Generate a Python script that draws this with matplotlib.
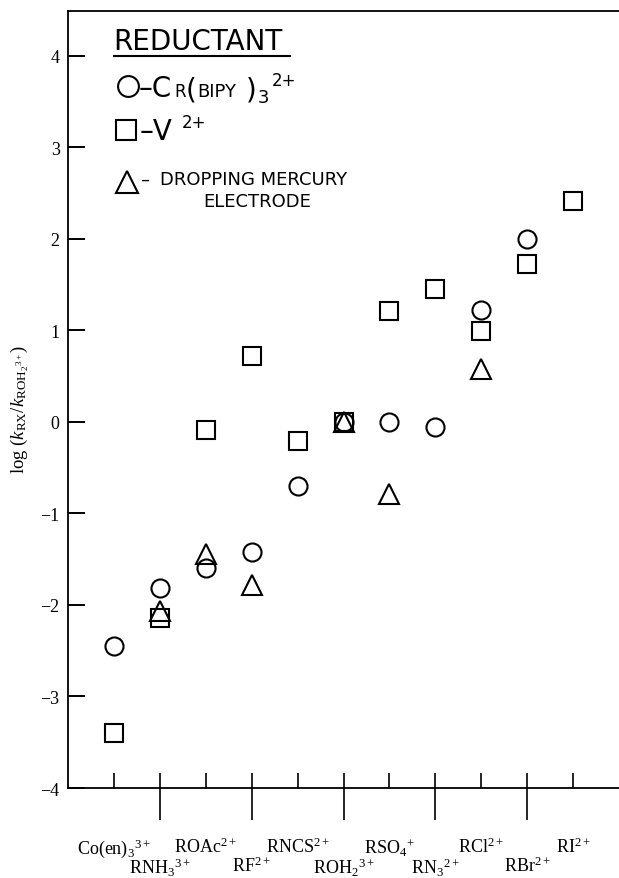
import numpy as np
import matplotlib
matplotlib.use('Agg')
import matplotlib.pyplot as plt
from matplotlib.lines import Line2D

plt.rcParams['font.family'] = ['Liberation Serif', 'DejaVu Serif']
plt.rcParams['mathtext.fontset'] = 'custom'
plt.rcParams['mathtext.rm'] = 'Liberation Serif'
plt.rcParams['mathtext.it'] = 'Liberation Serif:italic'

# complexes, in order along the x axis
categories = [r'Co(en)$_3$$^{3+}$', r'RNH$_3$$^{3+}$', r'ROAc$^{2+}$', r'RF$^{2+}$',
              r'RNCS$^{2+}$', r'ROH$_2$$^{3+}$', r'RSO$_4$$^{+}$', r'RN$_3$$^{2+}$',
              r'RCl$^{2+}$', r'RBr$^{2+}$', r'RI$^{2+}$']

# Cr(bipy)3 2+  (circles)
cr_pos = [1, 2, 3, 4, 5, 6, 7, 8, 9, 10]
cr_val = [-2.45, -1.82, -1.60, -1.42, -0.70, 0.0, 0.0, -0.06, 1.22, 2.00]

# V 2+  (squares)
v_pos = [1, 2, 3, 4, 5, 6, 7, 8, 9, 10, 11]
v_val = [-3.40, -2.14, -0.09, 0.72, -0.21, 0.0, 1.21, 1.45, 0.99, 1.73, 2.41]

# dropping mercury electrode  (triangles)
dme_pos = [2, 3, 4, 6, 7, 9]
dme_val = [-2.07, -1.44, -1.78, 0.0, -0.79, 0.58]

W, H = 619, 879
fig = plt.figure(figsize=(W / 100, H / 100), dpi=100)
ax = fig.add_axes([68 / W, 1 - 789 / H, (W - 68) / W, (789 - 12) / H])

mk = dict(linestyle='none', mfc='none', mec='black', mew=1.5, clip_on=False)
ax.plot(v_pos, v_val, 's', ms=12.5, **mk)
ax.plot(cr_pos, cr_val, 'o', ms=13, **mk)
ax.plot(dme_pos, dme_val, '^', ms=14, **mk)

ax.set_xlim(0, 12)
ax.set_ylim(-4, 4.49)

pos = np.arange(1, 12)
ax.xaxis.remove_overlapping_locs = False
ax.set_xticks(pos[1::2])
ax.set_xticklabels(categories[1::2])
ax.set_xticks(pos, minor=True)
ax.set_xticklabels([c if i % 2 == 0 else '' for i, c in enumerate(categories)], minor=True)
ax.tick_params(axis='x', which='major', direction='out', length=23, width=1.2,
               pad=26, labelsize=13)
ax.tick_params(axis='x', which='minor', direction='in', length=11, width=1.2,
               pad=35, labelsize=13)

ax.set_yticks(np.arange(-4, 5))
ax.tick_params(axis='y', direction='in', length=12, width=1.4, pad=6, labelsize=13)

ax.spines['right'].set_visible(False)
for s in ['left', 'bottom', 'top']:
    ax.spines[s].set_linewidth(1.3)

ax.set_ylabel(r'log ($k_{\mathrm{RX}}$/$k_{\mathrm{ROH}_2{}^{3+}}$)', fontsize=13.5)
ax.yaxis.set_label_coords((31 - 68) / 551, (789 - 410) / 777)

# hand drawn key, placed in pixel units of the figure
def fx(px):
    return px / W

def fy(py):
    return 1 - py / H

sans = 'DejaVu Sans'

def put(px, py, s, size):
    fig.text(fx(px), fy(py), s, fontsize=size, family=sans, ha='left', va='baseline')

put(113, 50, 'REDUCTANT', 20)
fig.add_artist(Line2D([fx(114), fx(290)], [fy(57), fy(57)], color='black', lw=1.5,
                      transform=fig.transFigure))

key = dict(linestyle='none', mfc='none', mec='black', mew=1.5, transform=fig.transFigure)
fig.add_artist(Line2D([fx(128)], [fy(87)], marker='o', ms=15, **key))
fig.add_artist(Line2D([fx(126)], [fy(131)], marker='s', ms=14, **key))
fig.add_artist(Line2D([fx(127)], [fy(183)], marker='^', ms=16, **key))

put(139, 97, '–C', 20)
put(174, 97, 'R', 12)
put(186, 99, '(', 20)
put(197, 97, 'BIPY', 13)
put(246, 99, ')', 20)
put(258, 103, '3', 13)
put(272, 86, '2+', 12)

put(140, 140, '–V', 20)
put(182, 128, '2+', 12)

put(140, 185, '–', 13)
put(160, 185, 'DROPPING MERCURY', 13)
put(203, 207, 'ELECTRODE', 13)

fig.savefig('out.png', dpi=100)
